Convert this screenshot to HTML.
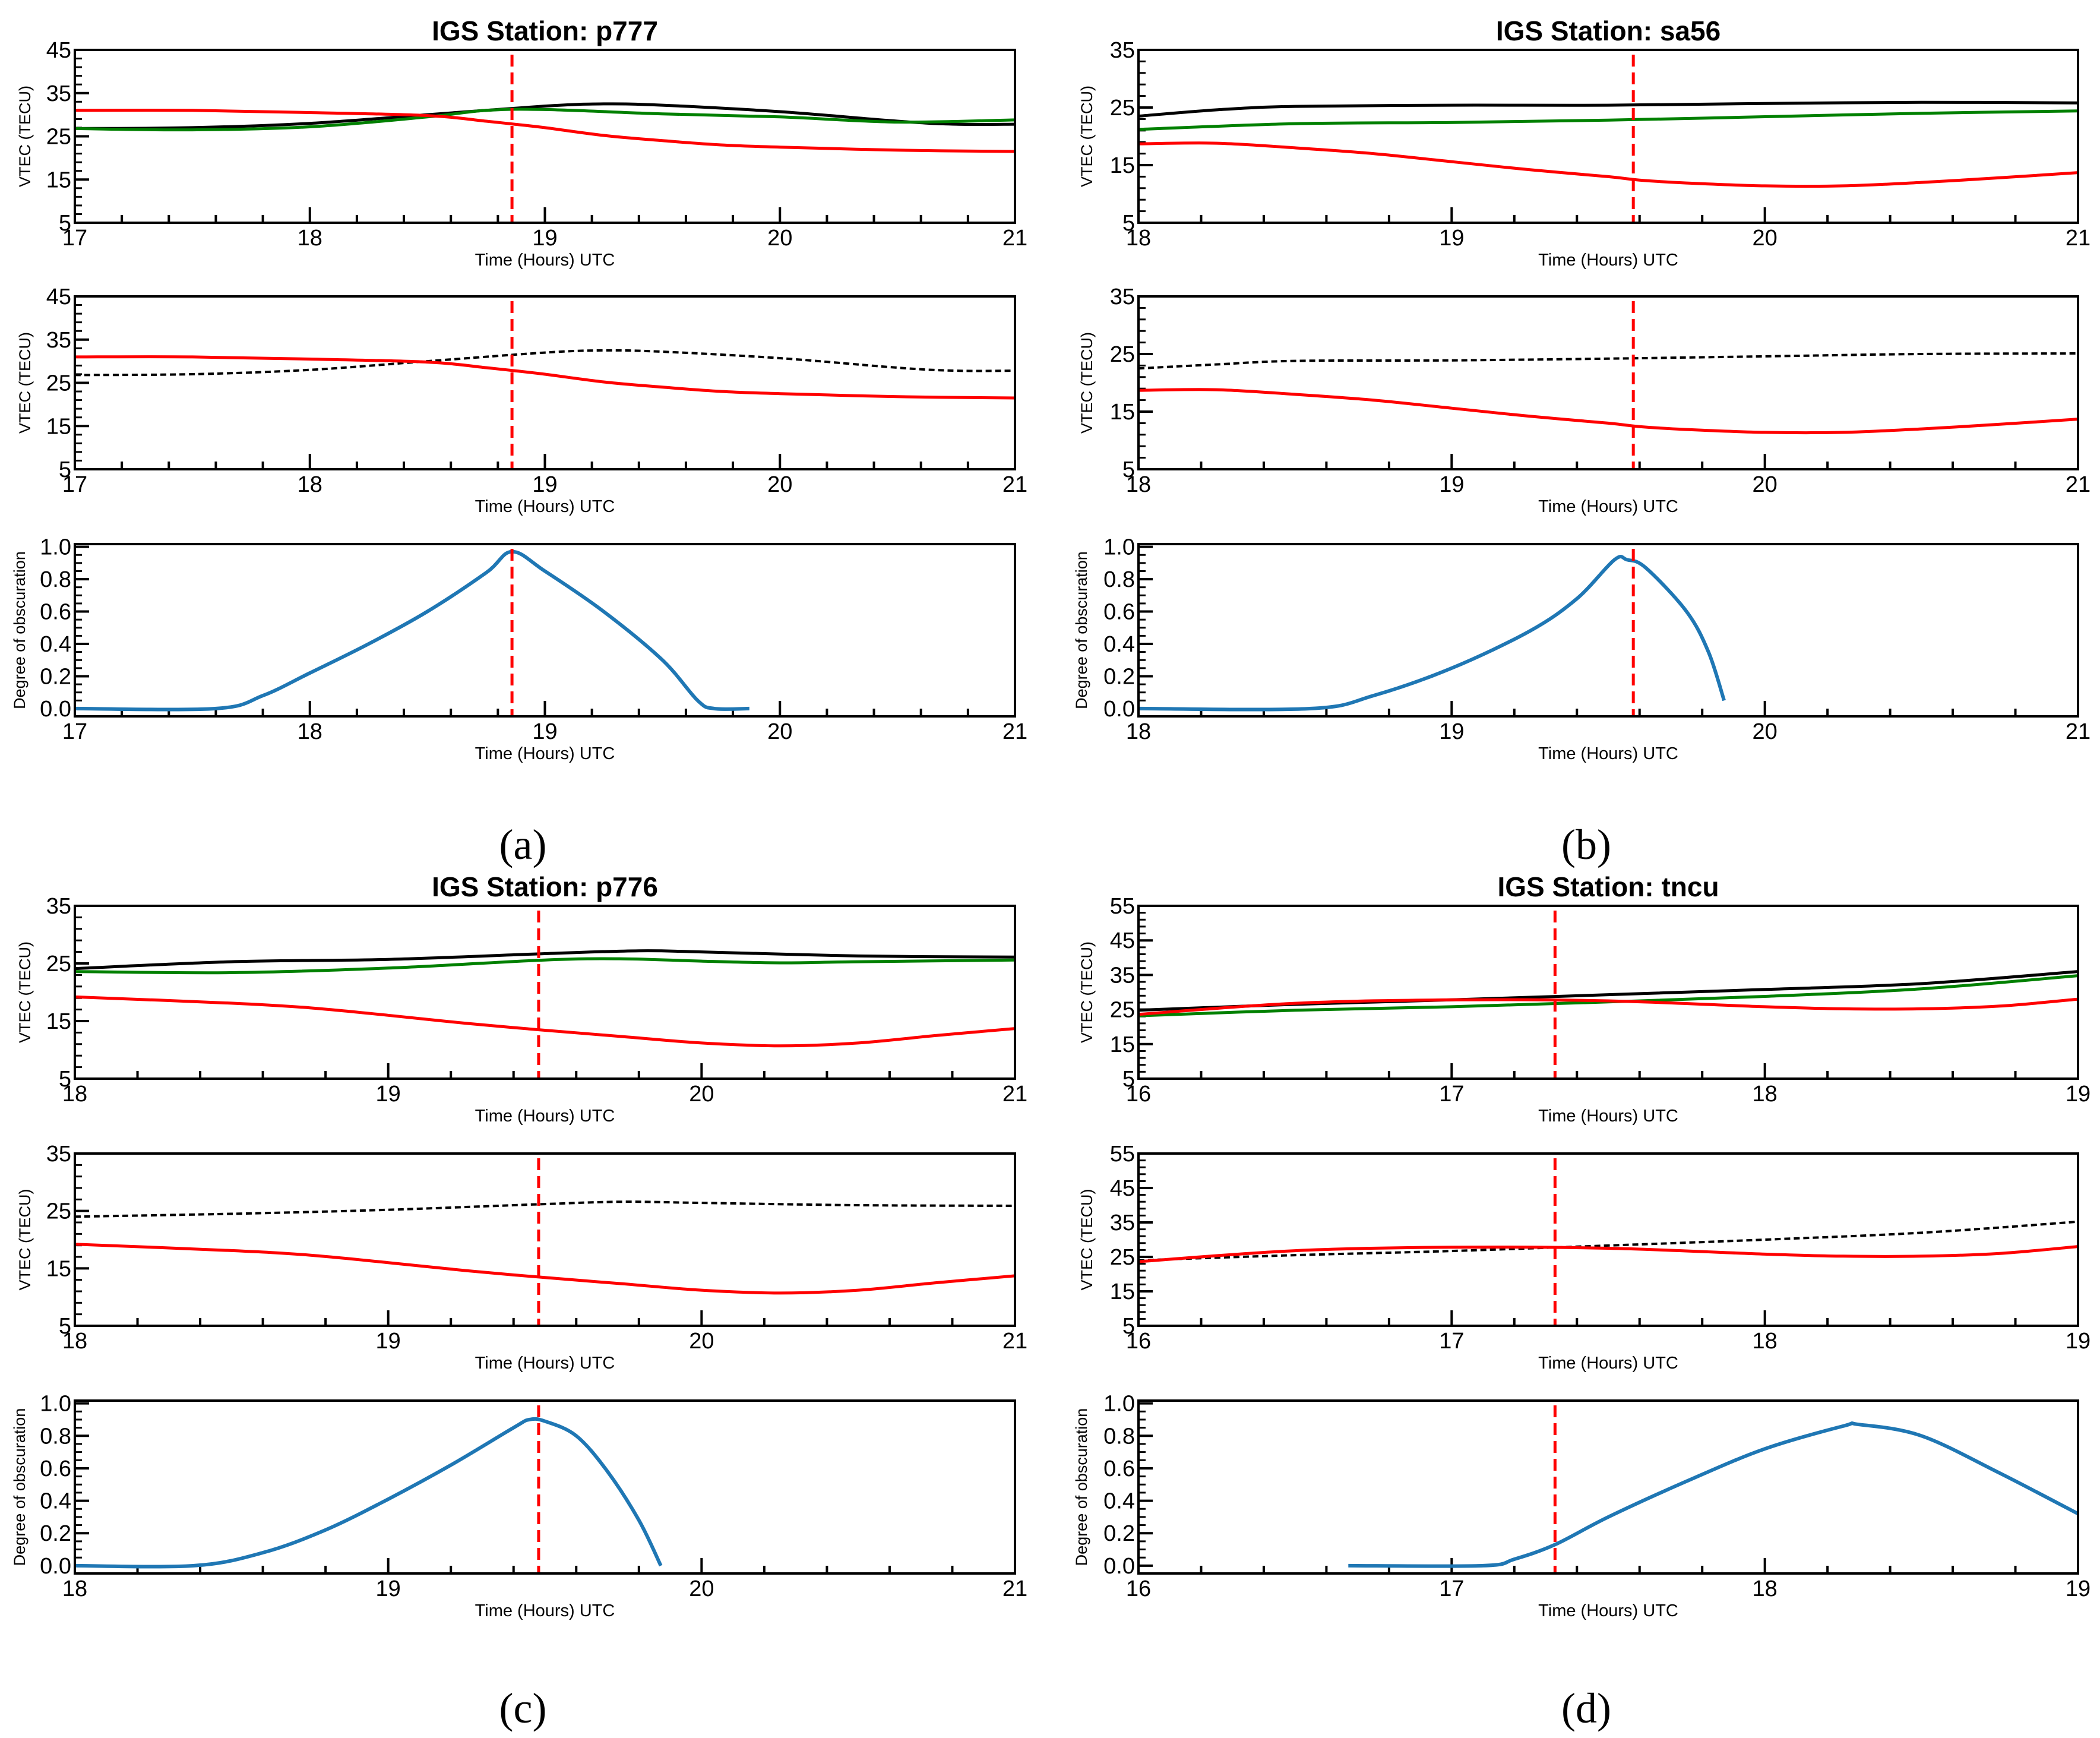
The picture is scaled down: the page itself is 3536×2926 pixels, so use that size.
<!DOCTYPE html>
<html><head><meta charset="utf-8"><style>
html,body{margin:0;padding:0;background:#fff}
svg{display:block}
text{font-family:"Liberation Sans","DejaVu Sans",sans-serif}
text.cap{font-family:"Liberation Serif","DejaVu Serif",serif}
</style></head><body>
<svg id="fig" width="3536" height="2926" viewBox="0 0 3536 2926" xmlns="http://www.w3.org/2000/svg"></svg>
<script>
// ---- Panel (a) p777 ----
const aHours=[17,17.5,18,18.5,19,19.25,19.5,20,20.5,20.75,21];
const aBlack=[26.8,27,28,30,32,32.5,32.2,30.7,28.5,27.8,27.8];
const aGreenH=[17,17.5,18,18.5,18.75,19,19.5,20,20.5,21];
const aGreen=[26.8,26.5,27.2,29.5,31,31.2,30.2,29.5,28.3,28.8];
const aRedH=[17,17.5,18,18.5,18.75,18.87,19,19.25,19.5,19.75,20,20.5,21];
const aRed=[31,31,30.5,29.8,28.5,27.8,27,25.2,24,23,22.5,21.8,21.5];
const aObsH=[17,17.6,17.8,18,18.25,18.5,18.75,18.86,19,19.25,19.5,19.65,19.72,19.87];
const aObs=[0,0,0.08,0.22,0.4,0.6,0.84,0.97,0.85,0.6,0.3,0.05,0,0];
const aMax=18.86;
// ---- Panel (b) sa56 ----
const bHours=[18,18.25,18.5,19,19.5,20,20.5,21];
const bBlack=[23.5,24.6,25.2,25.4,25.4,25.7,25.9,25.8];
const bGreenH=[18,18.5,19,19.5,20,20.5,21];
const bGreen=[21.2,22.2,22.4,22.8,23.4,24,24.4];
const bRedH=[18,18.25,18.5,18.75,19,19.25,19.5,19.6,19.75,20,20.25,20.5,20.75,21];
const bRed=[18.7,18.8,18,17,15.6,14.2,13,12.4,11.9,11.4,11.4,12,12.8,13.7];
const bDashH=[18,18.25,18.5,19,19.5,20,20.5,21];
const bDash=[22.5,23.2,23.8,23.9,24.2,24.6,25,25.1];
const bObsH=[18,18.55,18.75,19,19.25,19.4,19.52,19.56,19.62,19.75,19.82,19.87];
const bObs=[0,0,0.08,0.25,0.48,0.68,0.92,0.92,0.87,0.6,0.35,0.05];
const bMax=19.58;
// ---- Panel (c) p776 ----
const cHours=[18,18.5,19,19.5,19.8,20,20.5,21];
const cBlack=[24.1,25.3,25.7,26.7,27.2,27,26.3,26.1];
const cGreenH=[18,18.5,19,19.5,19.75,20,20.25,20.5,21];
const cGreen=[23.6,23.4,24.2,25.6,25.8,25.4,25.1,25.3,25.6];
const cRedH=[18,18.5,18.75,19,19.25,19.5,19.75,20,20.25,20.5,20.75,21];
const cRed=[19.2,18.1,17.3,16,14.6,13.4,12.3,11.2,10.7,11.2,12.5,13.7];
const cDashH=[18,18.5,19,19.5,19.75,20,20.5,21];
const cDash=[24,24.5,25.2,26.2,26.6,26.4,26,25.9];
const cObsH=[18,18.38,18.6,18.8,19,19.2,19.4,19.45,19.5,19.6,19.7,19.8,19.87];
const cObs=[0,0,0.08,0.22,0.41,0.62,0.85,0.9,0.89,0.8,0.58,0.28,0];
const cMax=19.48;
// ---- Panel (d) tncu ----
const dHours=[16,16.5,17,17.5,18,18.5,19];
const dBlack=[24.8,26.5,27.8,29.3,30.8,32.5,36];
const dGreen=[23.2,24.8,25.8,27.2,28.8,31,34.8];
const dRedH=[16,16.5,17,17.5,18,18.25,18.5,18.75,19];
const dRed=[23.6,26.8,27.8,27.5,25.8,25.2,25.2,26,28];
const dDash=[24,25.5,26.7,28.3,30,32,35.2];
const dObsH=[16.67,17.1,17.2,17.33,17.5,17.75,18,18.25,18.3,18.5,18.75,19];
const dObs=[0,0,0.04,0.13,0.3,0.52,0.72,0.86,0.87,0.8,0.57,0.32];
const dMax=17.33;

const NS="http://www.w3.org/2000/svg";
const svg=document.getElementById('fig');
function mk(tag,attrs,parent){const e=document.createElementNS(NS,tag);for(const k in attrs)e.setAttribute(k,attrs[k]);(parent||svg).appendChild(e);return e;}
function smooth(pts){let d="M"+pts[0][0].toFixed(1)+","+pts[0][1].toFixed(1);
 for(let i=0;i<pts.length-1;i++){const p0=pts[Math.max(0,i-1)],p1=pts[i],p2=pts[i+1],p3=pts[Math.min(pts.length-1,i+2)];
  const c1=[p1[0]+(p2[0]-p0[0])/6,p1[1]+(p2[1]-p0[1])/6],c2=[p2[0]-(p3[0]-p1[0])/6,p2[1]-(p3[1]-p1[1])/6];
  d+=" C"+c1[0].toFixed(1)+","+c1[1].toFixed(1)+" "+c2[0].toFixed(1)+","+c2[1].toFixed(1)+" "+p2[0].toFixed(1)+","+p2[1].toFixed(1);}
 return d;}

function axes(g,x0,x1,y0,y1,xmin,xmax,ymin,ymax,yTicks,yMinor,yFmt,ylabel,ylx){
 const X=v=>x0+(v-xmin)/(xmax-xmin)*(x1-x0);
 const Y=v=>y1-(v-ymin)/(ymax-ymin)*(y1-y0);
 for(let h=xmin;h<=xmax+1e-6;h+=0.2){const major=Math.abs(h-Math.round(h))<1e-6;const x=X(h);
  mk('line',{x1:x,x2:x,y1:y1,y2:y1-(major?26:13),stroke:'#000','stroke-width':4},g);}
 for(const v of yMinor){const y=Y(v);if(y<y0-1||y>y1+1)continue;mk('line',{x1:x0,x2:x0+12,y1:y,y2:y,stroke:'#000','stroke-width':3},g);}
 for(const v of yTicks){const y=Y(v);mk('line',{x1:x0,x2:x0+24,y1:y,y2:y,stroke:'#000','stroke-width':4},g);
  const t=mk('text',{x:x0-6,y:y+13,'font-size':38,'text-anchor':'end'},g);t.textContent=yFmt(v);
  
  }
 for(let h=xmin;h<=xmax;h++){const t=mk('text',{x:X(h),y:y1+38,'font-size':38,'text-anchor':'middle'},g);t.textContent=h;
  
  }
 const xl=mk('text',{x:(x0+x1)/2,y:y1+72,'font-size':29,'text-anchor':'middle'},g);xl.textContent='Time (Hours) UTC';
 
 
 const yl=mk('text',{x:ylx,y:(y0+y1)/2,'font-size':27,'text-anchor':'middle','xml:space':'preserve',transform:`rotate(-90 ${ylx} ${(y0+y1)/2})`},g);yl.textContent=ylabel;
 
 
 return {X,Y};
}
function series(g,s,hs,vs,color,w,dash,name){
 const p=mk('path',{d:smooth(hs.map((h,i)=>[s.X(h),s.Y(vs[i])])),fill:'none',stroke:color,'stroke-width':w},g);
 if(dash)p.setAttribute('stroke-dasharray',dash);
 
 
}
function frame(g,x0,x1,y0,y1){mk('rect',{x:x0,y:y0,width:x1-x0,height:y1-y0,fill:'none',stroke:'#000','stroke-width':4},g);}
function vline(g,s,h,y0,y1){const l=mk('line',{x1:s.X(h),x2:s.X(h),y1:y0+8,y2:y1,stroke:'#ff0000','stroke-width':5,'stroke-dasharray':'20,10'},g);
 
 }

function panel(cfg){
 const g=mk('g',{});
 
 
 const {x0,x1,rows,xmin,xmax,ymin,ymax,vt,vm,title,cap,capY,ylx,olx}=cfg;
 const tt=mk('text',{x:(x0+x1)/2,y:rows[0][0]-16,'font-size':46,'font-weight':'bold','text-anchor':'middle'},g);tt.textContent=title;
 
 
 let s=axes(g,x0,x1,rows[0][0],rows[0][1],xmin,xmax,ymin,ymax,vt,vm,v=>v,'VTEC  (TECU)',ylx);
 series(g,s,cfg.bH,cfg.black,'#000',5,null,'vtec-observed-line');
 series(g,s,cfg.gH,cfg.green,'#008000',5,null,'vtec-model-line');
 series(g,s,cfg.rH,cfg.red,'#ff0000',5,null,'vtec-eclipse-line');
 vline(g,s,cfg.max,rows[0][0],rows[0][1]);frame(g,x0,x1,rows[0][0],rows[0][1]);
 s=axes(g,x0,x1,rows[1][0],rows[1][1],xmin,xmax,ymin,ymax,vt,vm,v=>v,'VTEC  (TECU)',ylx);
 series(g,s,cfg.dH,cfg.dash,'#000',4,'10,6','vtec-reference-dashed-line');
 series(g,s,cfg.rH,cfg.red,'#ff0000',5,null,'vtec-eclipse-line');
 vline(g,s,cfg.max,rows[1][0],rows[1][1]);frame(g,x0,x1,rows[1][0],rows[1][1]);
 const om=[];for(let v=0;v<=1.0001;v+=0.05)om.push(v);
 s=axes(g,x0,x1,rows[2][0],rows[2][1],xmin,xmax,-0.048,1.017,[0,0.2,0.4,0.6,0.8,1.0],om,v=>v.toFixed(1),'Degree of obscuration',olx);
 series(g,s,cfg.oH,cfg.obs,'#1f77b4',6,null,'obscuration-line');
 vline(g,s,cfg.max,rows[2][0],rows[2][1]);frame(g,x0,x1,rows[2][0],rows[2][1]);
 const c=mk('text',{x:(x0+x1)/2-37,y:capY,'font-size':72,'text-anchor':'middle','class':'cap'},g);c.textContent=cap;
 
 
}
const topRows=[[84,375],[499,790],[916,1206]];
const botRows=[[1525,1816],[1942,2232],[2358,2649]];
const m1=[];for(let v=5;v<=45;v+=2)m1.push(v);
const m2=[];for(let v=5;v<=35;v+=2)m2.push(v);
const m3=[];for(let v=5;v<=55;v+=2)m3.push(v);
panel({name:'panel-a-p777',x0:126,x1:1709,rows:topRows,xmin:17,xmax:21,ymin:5,ymax:45,vt:[5,15,25,35,45],vm:m1,title:'IGS Station: p777',cap:'(a)',capY:1446,ylx:51,olx:42,
 bH:aHours,black:aBlack,gH:aGreenH,green:aGreen,rH:aRedH,red:aRed,dH:aHours,dash:aBlack,oH:aObsH,obs:aObs,max:aMax});
panel({name:'panel-b-sa56',x0:1917,x1:3499,rows:topRows,xmin:18,xmax:21,ymin:5,ymax:35,vt:[5,15,25,35],vm:m2,title:'IGS Station: sa56',cap:'(b)',capY:1446,ylx:1839,olx:1830,
 bH:bHours,black:bBlack,gH:bGreenH,green:bGreen,rH:bRedH,red:bRed,dH:bDashH,dash:bDash,oH:bObsH,obs:bObs,max:bMax});
panel({name:'panel-c-p776',x0:126,x1:1709,rows:botRows,xmin:18,xmax:21,ymin:5,ymax:35,vt:[5,15,25,35],vm:m2,title:'IGS Station: p776',cap:'(c)',capY:2900,ylx:51,olx:42,
 bH:cHours,black:cBlack,gH:cGreenH,green:cGreen,rH:cRedH,red:cRed,dH:cDashH,dash:cDash,oH:cObsH,obs:cObs,max:cMax});
panel({name:'panel-d-tncu',x0:1917,x1:3499,rows:botRows,xmin:16,xmax:19,ymin:5,ymax:55,vt:[5,15,25,35,45,55],vm:m3,title:'IGS Station: tncu',cap:'(d)',capY:2900,ylx:1839,olx:1830,
 bH:dHours,black:dBlack,gH:dHours,green:dGreen,rH:dRedH,red:dRed,dH:dHours,dash:dDash,oH:dObsH,obs:dObs,max:dMax});
</script>
</body></html>
